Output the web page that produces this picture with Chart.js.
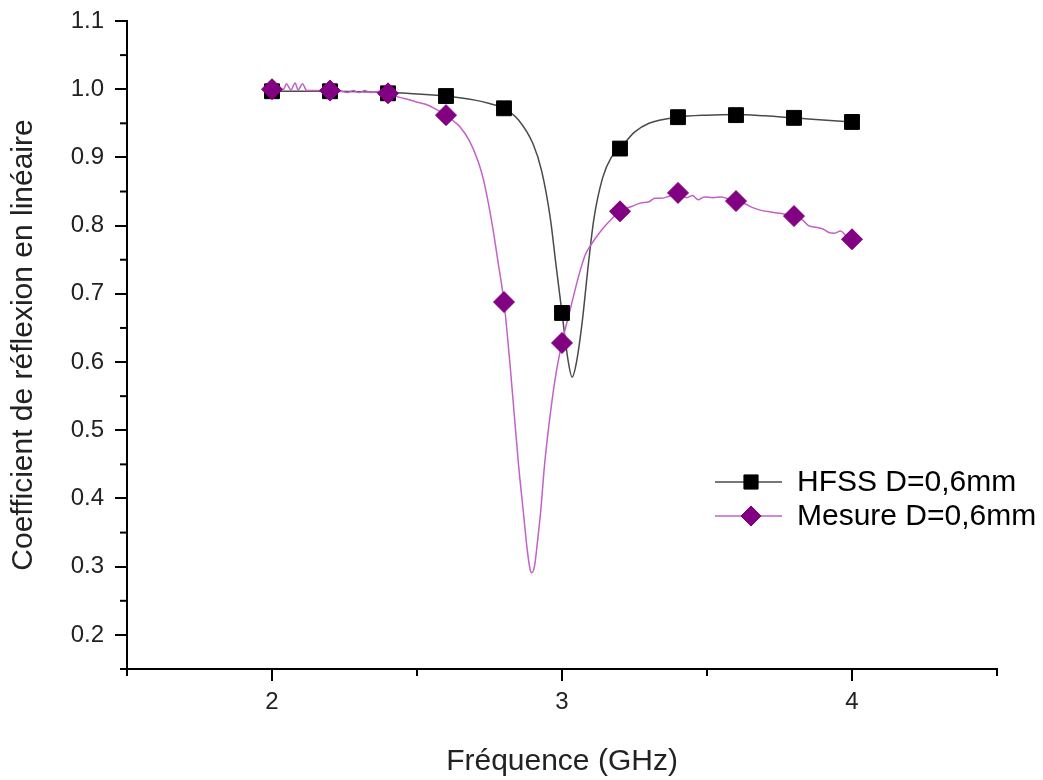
<!DOCTYPE html>
<html>
<head>
<meta charset="utf-8">
<title>Coefficient de réflexion</title>
<script src="https://cdn.jsdelivr.net/npm/chart.js@4.4.0/dist/chart.umd.min.js"></script>
<style>
  html, body { margin: 0; padding: 0; background: #fff; }
  #wrap { width: 1043px; height: 780px; }
</style>
</head>
<body>
<div id="wrap"><canvas id="chart" width="1043" height="780"></canvas></div>
<script>
// Markers every 0.2 GHz
const markerFreq = [2.0, 2.2, 2.4, 2.6, 2.8, 3.0, 3.2, 3.4, 3.6, 3.8, 4.0];
const hfssMarkers = [0.997, 0.997, 0.994, 0.990, 0.972, 0.672, 0.913, 0.959, 0.962, 0.958, 0.952];
const mesureMarkers = [1.000, 0.998, 0.994, 0.962, 0.688, 0.628, 0.821, 0.848, 0.836, 0.814, 0.780];

// Simulated curve (HFSS)
const hfssFreq = [2.0, 2.2, 2.4, 2.5, 2.6, 2.7, 2.75, 2.8, 2.85, 2.9, 2.93, 2.96, 2.98, 3.0,
  3.02, 3.035, 3.05, 3.07, 3.09, 3.11, 3.14, 3.17, 3.2, 3.25, 3.3, 3.4, 3.5, 3.6, 3.7, 3.8, 3.9, 4.0];
const hfssCurve = [0.997, 0.997, 0.995, 0.993, 0.990, 0.984, 0.979, 0.972, 0.955, 0.920, 0.880, 0.810, 0.740, 0.672,
  0.605, 0.578, 0.600, 0.660, 0.740, 0.810, 0.870, 0.900, 0.913, 0.937, 0.950, 0.959, 0.962, 0.963, 0.961, 0.958, 0.955, 0.952];

const mesureFreq = [2.0, 2.02, 2.04, 2.05, 2.065, 2.08, 2.09, 2.105, 2.12, 2.15, 2.2, 2.24, 2.26, 2.28, 2.3, 2.32, 2.34, 2.37, 2.4,
  2.44, 2.47, 2.5, 2.53, 2.56, 2.6, 2.63, 2.65, 2.68, 2.71, 2.73, 2.76, 2.78, 2.8, 2.82, 2.835, 2.85, 2.867, 2.88, 2.89, 2.895,
  2.905, 2.915, 2.926, 2.94, 2.96, 2.98, 3.0, 3.03, 3.06, 3.08, 3.1, 3.13, 3.16, 3.2, 3.24, 3.27, 3.3, 3.32, 3.34, 3.37, 3.4,
  3.43, 3.45, 3.47, 3.49, 3.52, 3.55, 3.58, 3.6, 3.63, 3.66, 3.69, 3.72, 3.75, 3.8, 3.83, 3.85, 3.87, 3.9, 3.92, 3.94, 3.96, 3.98, 4.0];
const mesureCurve = [1.000, 0.999, 1.000, 1.008, 0.999, 1.009, 0.999, 1.008, 0.998, 0.998, 0.998, 0.997, 0.995, 0.998, 0.995, 0.998, 0.995, 0.997, 0.994,
  0.988, 0.985, 0.981, 0.978, 0.972, 0.962, 0.952, 0.944, 0.925, 0.895, 0.866, 0.800, 0.745, 0.688, 0.600, 0.525, 0.450, 0.379, 0.325, 0.296, 0.291,
  0.300, 0.335, 0.379, 0.450, 0.525, 0.585, 0.628, 0.680, 0.730, 0.757, 0.772, 0.790, 0.805, 0.821, 0.828, 0.833, 0.835, 0.840, 0.840, 0.843, 0.846,
  0.841, 0.844, 0.838, 0.842, 0.841, 0.842, 0.838, 0.836, 0.832, 0.826, 0.822, 0.820, 0.818, 0.814, 0.808, 0.800, 0.798, 0.795, 0.790, 0.789, 0.792, 0.785, 0.780];

const xMajor = [2, 3, 4];
const xMinor = [1.5, 2.5, 3.5, 4.5];
const yMajor = [0.2, 0.3, 0.4, 0.5, 0.6, 0.7, 0.8, 0.9, 1.0, 1.1];
const yMinor = [0.15, 0.25, 0.35, 0.45, 0.55, 0.65, 0.75, 0.85, 0.95, 1.05];

const seriesNames = ['HFSS D=0,6mm', 'Mesure D=0,6mm'];

const FONT = '"Liberation Sans", Arial, Helvetica, sans-serif';
const HFSS_LINE = '#4a4a4a';
const HFSS_MARK = '#000000';
const MES_LINE = '#c261c8';
const MES_MARK = '#820082';

const toXY = (xs, ys) => xs.map((x, i) => ({ x: x, y: ys[i] }));

// minor ticks + legend with line sample and marker
const extrasPlugin = {
    id: 'extras',
    afterDraw(chart) {
        const ctx = chart.ctx;
        const xs = chart.scales.x;
        const ys = chart.scales.y;
        const area = chart.chartArea;
        ctx.save();
        ctx.strokeStyle = '#000';
        ctx.lineWidth = 2;
        xMinor.forEach(v => {
            const px = xs.getPixelForValue(v);
            ctx.beginPath();
            ctx.moveTo(px, area.bottom);
            ctx.lineTo(px, area.bottom + 7);
            ctx.stroke();
        });
        yMinor.forEach(v => {
            const py = ys.getPixelForValue(v);
            ctx.beginPath();
            ctx.moveTo(area.left, py);
            ctx.lineTo(area.left - 7, py);
            ctx.stroke();
        });

        // legend
        const lx = area.right - 282;
        const rows = [
            { name: seriesNames[0], line: HFSS_LINE, mark: HFSS_MARK, style: 'rect' },
            { name: seriesNames[1], line: MES_LINE, mark: MES_MARK, style: 'rectRot' }
        ];
        ctx.font = '30px ' + FONT;
        ctx.textBaseline = 'middle';
        ctx.textAlign = 'left';
        rows.forEach((r, i) => {
            const y = 482 + i * 34;
            ctx.strokeStyle = r.line;
            ctx.lineWidth = 1.5;
            ctx.beginPath();
            ctx.moveTo(lx, y);
            ctx.lineTo(lx + 67, y);
            ctx.stroke();
            ctx.fillStyle = r.mark;
            ctx.strokeStyle = r.mark;
            ctx.lineWidth = 1;
            Chart.helpers.drawPoint(ctx, { pointStyle: r.style, radius: 10, borderWidth: 1 }, lx + 36, y);
            ctx.fillStyle = '#000';
            ctx.fillText(r.name, lx + 82, y + 1);
        });
        ctx.restore();
    }
};

new Chart(document.getElementById('chart'), {
    type: 'scatter',
    data: {
        datasets: [
            {
                label: 'HFSS courbe',
                data: toXY(hfssFreq, hfssCurve),
                showLine: true,
                borderColor: HFSS_LINE,
                borderWidth: 1.5,
                pointRadius: 0,
                cubicInterpolationMode: 'monotone',
                order: 4
            },
            {
                label: 'Mesure courbe',
                data: toXY(mesureFreq, mesureCurve),
                showLine: true,
                borderColor: MES_LINE,
                borderWidth: 1.5,
                pointRadius: 0,
                cubicInterpolationMode: 'monotone',
                order: 3
            },
            {
                label: seriesNames[0],
                data: toXY(markerFreq, hfssMarkers),
                showLine: false,
                pointStyle: 'rect',
                pointRadius: 10.5,
                backgroundColor: HFSS_MARK,
                borderColor: HFSS_MARK,
                borderWidth: 1,
                order: 2
            },
            {
                label: seriesNames[1],
                data: toXY(markerFreq, mesureMarkers),
                showLine: false,
                pointStyle: 'rectRot',
                pointRadius: 10.5,
                backgroundColor: MES_MARK,
                borderColor: MES_MARK,
                borderWidth: 1,
                order: 1
            }
        ]
    },
    options: {
        responsive: false,
        animation: false,
        devicePixelRatio: 1,
        layout: { padding: { top: 21, right: 46, bottom: 0, left: 0 } },
        plugins: {
            legend: { display: false },
            tooltip: { enabled: false }
        },
        scales: {
            x: {
                type: 'linear',
                min: 1.5,
                max: 4.5,
                afterBuildTicks: s => { s.ticks = xMajor.map(v => ({ value: v })); },
                afterFit: s => { s.height = 111; s.paddingLeft = 0; s.paddingRight = 0; },
                grid: { drawOnChartArea: false, drawTicks: true, tickLength: 12, color: '#000', lineWidth: 2 },
                border: { display: true, color: '#000', width: 2 },
                ticks: {
                    color: '#222',
                    padding: 7,
                    font: { family: FONT, size: 24 },
                    callback: v => String(v)
                },
                title: {
                    display: true,
                    text: 'Fréquence (GHz)',
                    color: '#222',
                    font: { family: FONT, size: 30 },
                    padding: { top: 0, bottom: 0 }
                }
            },
            y: {
                type: 'linear',
                min: 0.15,
                max: 1.1,
                afterBuildTicks: s => { s.ticks = yMajor.map(v => ({ value: v })); },
                afterFit: s => { s.width = 127; s.paddingTop = 0; s.paddingBottom = 0; },
                grid: { drawOnChartArea: false, drawTicks: true, tickLength: 12, color: '#000', lineWidth: 2 },
                border: { display: true, color: '#000', width: 2 },
                ticks: {
                    color: '#222',
                    padding: 11,
                    font: { family: FONT, size: 24 },
                    callback: v => Number(v).toFixed(1)
                },
                title: {
                    display: true,
                    text: 'Coefficient de réflexion en linéaire',
                    color: '#222',
                    font: { family: FONT, size: 30 },
                    padding: { top: 6, bottom: 0 }
                }
            }
        }
    },
    plugins: [extrasPlugin]
});
</script>
</body>
</html>
